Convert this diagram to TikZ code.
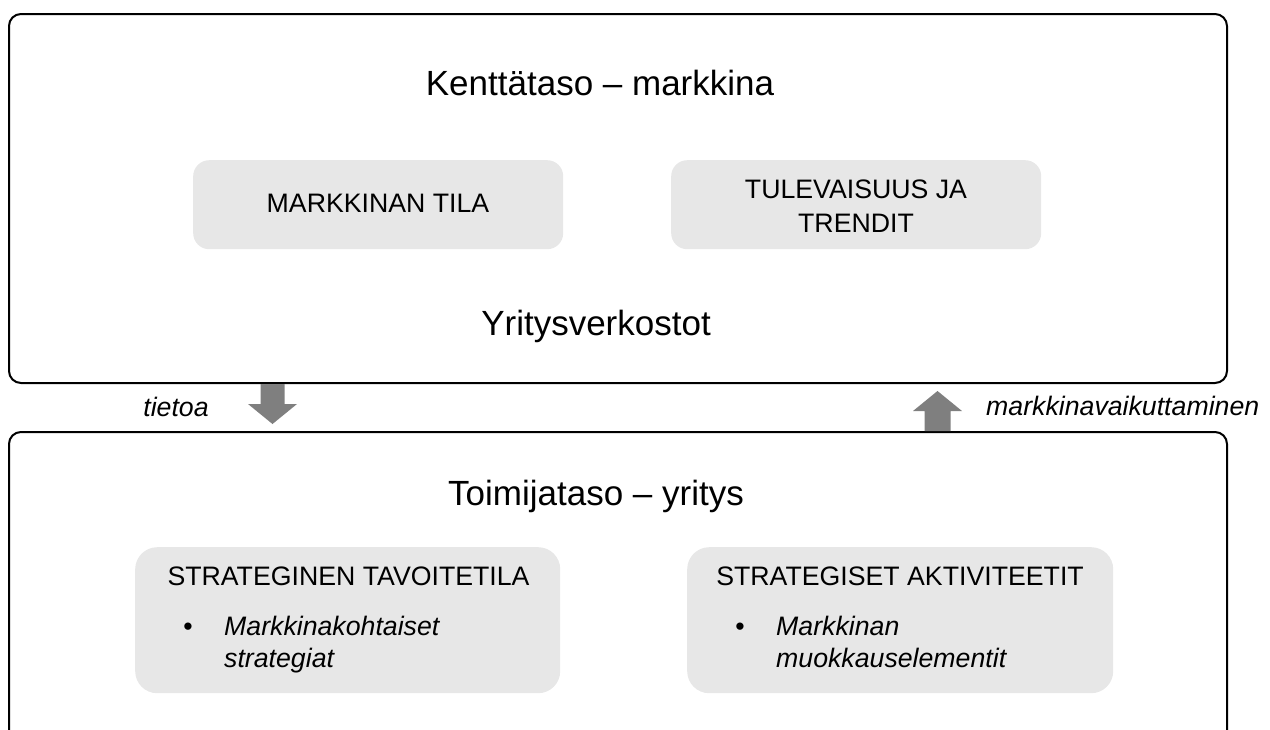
\documentclass[tikz,border=0pt]{standalone}
\usepackage{fontspec}
\setmainfont{Liberation Sans}
\usetikzlibrary{calc}
\definecolor{panelgray}{HTML}{E7E7E7}
\definecolor{arrowgray}{HTML}{7F7F7F}

\begin{document}
\begin{tikzpicture}[x=1pt,y=-1pt,
  layer/.style={draw=black, line width=2pt, rounded corners=12pt, anchor=north west, inner sep=0pt},
  panel/.style={fill=panelgray, draw=none, anchor=north west, inner sep=0pt},
  heading/.style={font=\fontsize{35}{40}\selectfont, inner sep=0pt, anchor=base},
  label/.style={font=\fontsize{26.7}{34}\selectfont, inner sep=0pt, anchor=base},
  note/.style={font=\fontsize{26.7}{32}\selectfont\itshape, inner sep=0pt, anchor=base},
  blockarrow/.style={fill=arrowgray, draw=none}]
\useasboundingbox (0,0) rectangle (1270,729);
\clip (0,0) rectangle (1270,729);

% the two levels
\node[layer, minimum width=1218pt, minimum height=369pt] (field) at (8,13) {};
\node[layer, minimum width=1218pt, minimum height=340pt] (actor) at (8,431) {};

% panels of the field level
\node[panel, rounded corners=16pt, minimum width=370pt, minimum height=89pt] (state) at (193,160) {};
\node[panel, rounded corners=16pt, minimum width=370pt, minimum height=89pt] (future) at (671,160) {};

% panels of the actor level
\node[panel, rounded corners=22pt, minimum width=425pt, minimum height=146pt] (goal) at (135,547) {};
\node[panel, rounded corners=22pt, minimum width=426pt, minimum height=146pt] (activity) at (687,547) {};

% headings
\node[heading] (fieldtitle) at (600,95) {Kenttätaso – markkina};
\node[heading] (networks) at (596,335) {Yritysverkostot};
\node[heading] (actortitle) at (596,505) {Toimijataso – yritys};

% panel texts
\node[label] (statetext) at (378,212) {MARKKINAN TILA};
\node[label] (futuretext) at (856,198) {\begin{tabular}[t]{@{}c@{}}TULEVAISUUS JA\\TRENDIT\end{tabular}};

\node[label] (goaltitle) at (348.5,585) {STRATEGINEN TAVOITETILA};
\node[label] (goalbullet) at (188,635) {•};
\node[note, anchor=base west] (goalitem) at (224,635)
  {\begin{tabular}[t]{@{}l@{}}Markkinakohtaiset\\strategiat\end{tabular}};

\node[label] (acttitle) at (900,585) {STRATEGISET AKTIVITEETIT};
\node[label] (actbullet) at (740,635) {•};
\node[note, anchor=base west] (actitem) at (776,635)
  {\begin{tabular}[t]{@{}l@{}}Markkinan\\muokkauselementit\end{tabular}};

% information flows down, influence flows up
\coordinate (down) at ($(field.south west)+(264.5,0)$);
\coordinate (up) at ($(actor.north west)+(929.5,0)$);

\fill[blockarrow] ($(down)+(-12,0)$) -- ($(down)+(12,0)$) -- ($(down)+(12,20)$)
  -- ($(down)+(24.5,20)$) -- ($(down)+(0,40)$) -- ($(down)+(-24.5,20)$)
  -- ($(down)+(-12,20)$) -- cycle;
\fill[blockarrow] ($(up)+(-13,0)$) -- ($(up)+(13,0)$) -- ($(up)+(13,-20)$)
  -- ($(up)+(24.5,-20)$) -- ($(up)+(0,-40)$) -- ($(up)+(-24.5,-20)$)
  -- ($(up)+(-13,-20)$) -- cycle;

\node[note] (tietoa) at (176,416) {tietoa};
\node[note, anchor=base west] (influence) at (986,415) {markkinavaikuttaminen};
\end{tikzpicture}
\end{document}
